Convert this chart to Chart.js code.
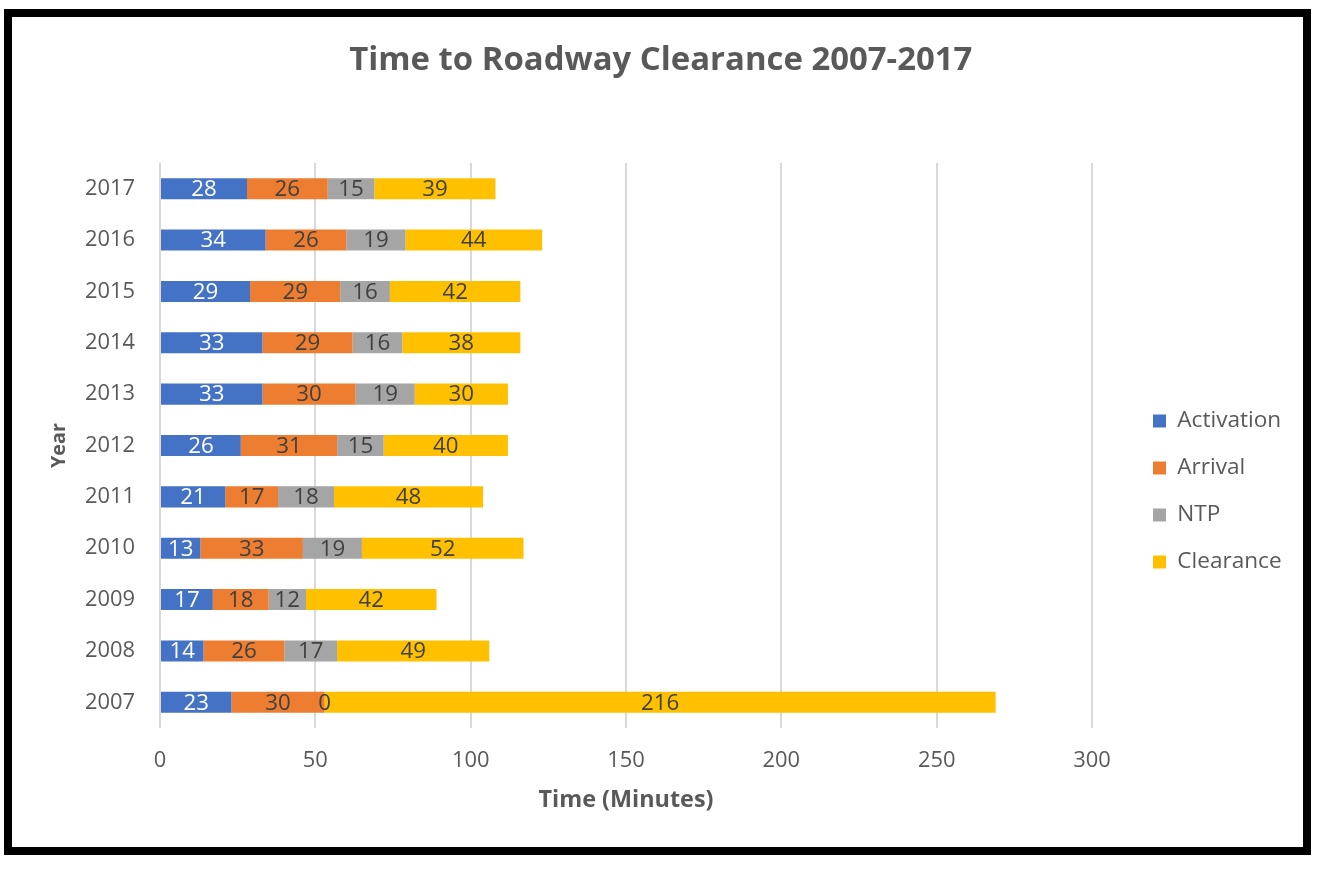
<!DOCTYPE html>
<html>
<head>
<meta charset="utf-8">
<script src="https://cdn.jsdelivr.net/npm/chart.js@4.4.1/dist/chart.umd.min.js"></script>
<style>
  html, body { margin: 0; padding: 0; background: #ffffff; }
  canvas { display: block; }
</style>
</head>
<body>
<canvas id="c" width="1318" height="873"></canvas>
<script>
// ---- Data ----
const years = ['2007','2008','2009','2010','2011','2012','2013','2014','2015','2016','2017'];
const activation = [23, 14, 17, 13, 21, 26, 33, 33, 29, 34, 28];
const arrival    = [30, 26, 18, 33, 17, 31, 30, 29, 29, 26, 26];
const ntp        = [ 0, 17, 12, 19, 18, 15, 19, 16, 16, 19, 15];
const clearance  = [216, 49, 42, 52, 48, 40, 30, 38, 42, 44, 39];
const seriesNames = ['Activation', 'Arrival', 'NTP', 'Clearance'];
const xTickMax = 300;
const xTickStep = 50;
const chartTitle = 'Time to Roadway Clearance 2007-2017';
const xTitle = 'Time (Minutes)';
const yTitle = 'Year';

// ---- Styles ----
const FONT = '"Open Sans"';
const TEXT = '#595959';
const colors = ['#4472C4', '#ED7D31', '#A5A5A5', '#FFC000'];
const labelColors = ['#FFFFFF', '#404040', '#404040', '#404040'];

// Font sizes chosen so that text widths match the reference
const mctx = document.createElement('canvas').getContext('2d');
function fitSize(text, weight, targetW) {
  mctx.font = weight + ' 100px ' + FONT;
  return Math.round(100 * targetW / mctx.measureText(text).width * 10) / 10;
}
const titleSize  = fitSize(chartTitle, 'bold', 623);
const xTitleSize = fitSize(xTitle, 'bold', 175);
const yTitleSize = fitSize(yTitle, 'bold', 45);
const legendSize = fitSize('Activation', 'normal', 104);
const tickSize   = fitSize('2017', 'normal', 50);
const dataSize   = fitSize('33', 'normal', 25.5);

// Layout targets (pixels from the reference)
const plotTop = 163, plotBottom = 728, plotLeft = 160, plotRight = 1092;
const padTop = 10, padLeft = 30;
const titleCenter = 61;
const titlePadTop = titleCenter - padTop - 0.6 * titleSize;
const titlePadBottom = plotTop - padTop - titlePadTop - 1.2 * titleSize;
const xTitleCenter = 800;
const xAxisBottom = xTitleCenter + 0.6 * xTitleSize;
const xTickPad = 760.7 - plotBottom - 0.6 * tickSize;
const yTitleCenter = 59;
const yTitlePad = yTitleCenter - padLeft - 0.6 * yTitleSize;

const legendBox = 13;
const legendPad = 47 - legendSize;
mctx.font = 'normal ' + legendSize + 'px ' + FONT;
const maxLegendText = Math.max(...seriesNames.map(s => mctx.measureText(s).width));
const legendWidth = legendPad + legendBox + legendSize / 2 + maxLegendText + 10;
const legendLeft = 1153 - legendPad;
const spacerWidth = legendLeft - plotRight;
const padRight = 1318 - legendLeft - legendWidth;

const bgAndFrame = {
  id: 'bgAndFrame',
  beforeDraw(chart) {
    const ctx = chart.ctx;
    ctx.save();
    ctx.fillStyle = '#ffffff';
    ctx.fillRect(0, 0, chart.width, chart.height);
    ctx.restore();
  },
  afterDraw(chart) {
    const ctx = chart.ctx;
    ctx.save();
    ctx.strokeStyle = '#000000';
    ctx.lineWidth = 8;
    ctx.strokeRect(8, 13, 1299, 838);
    ctx.restore();
  }
};

const segmentLabels = {
  id: 'segmentLabels',
  afterDatasetsDraw(chart) {
    const ctx = chart.ctx;
    ctx.save();
    ctx.font = 'normal ' + dataSize + 'px ' + FONT;
    ctx.textAlign = 'center';
    ctx.textBaseline = 'middle';
    chart.data.datasets.forEach((ds, di) => {
      const meta = chart.getDatasetMeta(di);
      if (meta.hidden) return;
      meta.data.forEach((el, i) => {
        const p = el.getProps(['x', 'y', 'base'], true);
        ctx.fillStyle = labelColors[di];
        ctx.fillText(String(ds.data[i]), (p.x + p.base) / 2, p.y + 1);
      });
    });
    ctx.restore();
  }
};

const seriesData = [activation, arrival, ntp, clearance];

new Chart(document.getElementById('c'), {
  type: 'bar',
  data: {
    labels: years,
    datasets: seriesNames.map((name, i) => ({
      label: name,
      data: seriesData[i],
      backgroundColor: colors[i],
      borderWidth: 0,
      barPercentage: 0.41,
      categoryPercentage: 1.0,
      xAxisID: 'x',
      yAxisID: 'y'
    }))
  },
  options: {
    indexAxis: 'y',
    responsive: false,
    devicePixelRatio: 1,
    animation: false,
    layout: { padding: { top: padTop, bottom: 873 - xAxisBottom, left: padLeft, right: padRight } },
    plugins: {
      title: {
        display: true,
        text: chartTitle,
        color: TEXT,
        font: { family: FONT, size: titleSize, weight: 'bold' },
        padding: { top: titlePadTop, bottom: titlePadBottom }
      },
      legend: {
        display: true,
        position: 'right',
        fullSize: false,
        align: 'center',
        title: { display: true, text: '', font: { size: 12 }, padding: { top: 77.6, bottom: 0 } },
        labels: {
          color: TEXT,
          font: { family: FONT, size: legendSize },
          boxWidth: legendBox,
          boxHeight: legendBox,
          padding: legendPad
        }
      },
      tooltip: { enabled: false }
    },
    scales: {
      x: {
        type: 'linear',
        stacked: true,
        min: 0,
        max: xTickMax,
        position: 'bottom',
        ticks: { stepSize: xTickStep, color: TEXT, font: { family: FONT, size: tickSize }, padding: xTickPad },
        grid: { color: '#D9D9D9', lineWidth: 2, drawTicks: false },
        border: { display: false },
        title: {
          display: true,
          text: xTitle,
          color: TEXT,
          font: { family: FONT, size: xTitleSize, weight: 'bold' },
          padding: { top: 0, bottom: 0 }
        },
        afterFit(s) { s.height = xAxisBottom - plotBottom; }
      },
      y: {
        type: 'category',
        stacked: true,
        reverse: true,
        position: 'left',
        ticks: { color: TEXT, font: { family: FONT, size: tickSize }, padding: 25 },
        grid: { display: false, drawTicks: false },
        border: { display: false },
        title: {
          display: true,
          text: yTitle,
          color: TEXT,
          font: { family: FONT, size: yTitleSize, weight: 'bold' },
          padding: { top: yTitlePad, bottom: 0 }
        },
        afterFit(s) { s.width = plotLeft - padLeft; }
      },
      spacer: {
        type: 'linear',
        axis: 'y',
        position: 'right',
        display: true,
        ticks: { display: false },
        grid: { display: false, drawTicks: false },
        border: { display: false },
        afterFit(s) { s.width = spacerWidth; }
      }
    }
  },
  plugins: [bgAndFrame, segmentLabels]
});
</script>
</body>
</html>
